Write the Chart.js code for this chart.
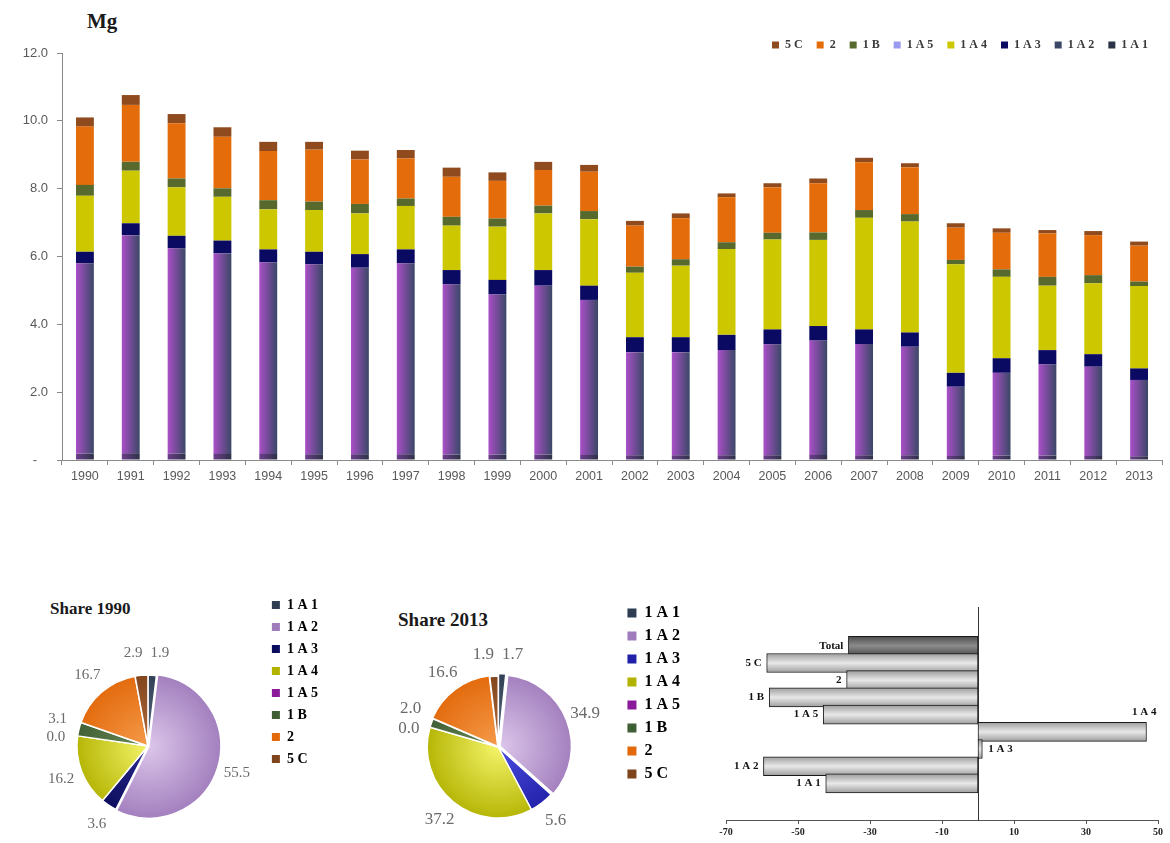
<!DOCTYPE html>
<html>
<head>
<meta charset="utf-8">
<title>Mg emissions</title>
<script src="https://cdn.jsdelivr.net/npm/chart.js@4.4.1/dist/chart.umd.min.js"></script>
<style>
  html, body { margin: 0; padding: 0; background: #fff; overflow: hidden; }
  #page { position: relative; width: 1170px; height: 843px; overflow: hidden; }
  #page canvas { position: absolute; }
  .ttl { position: absolute; font-family: "Liberation Serif", serif; font-weight: bold; color: #1a1a1a; white-space: nowrap; }
</style>
</head>
<body>
<div id="page">
  <div class="ttl" style="left:87px;top:8px;font-size:21px;line-height:26px">Mg</div>
  <canvas id="main" width="1170" height="500" style="left:0;top:0"></canvas>
  <div class="ttl" style="left:50px;top:599px;font-size:17px;line-height:20px">Share 1990</div>
  <canvas id="pie90" width="330" height="312" style="left:0;top:590px"></canvas>
  <div class="ttl" style="left:398px;top:609px;font-size:19px;line-height:22px">Share 2013</div>
  <canvas id="pie13" width="320" height="298" style="left:370px;top:598px"></canvas>
  <canvas id="change" width="470" height="253" style="left:700px;top:590px"></canvas>
</div>
<script>
// --- data (Mg) ---
const years = ['1990','1991','1992','1993','1994','1995','1996','1997','1998','1999','2000','2001',
               '2002','2003','2004','2005','2006','2007','2008','2009','2010','2011','2012','2013'];
const sectors = ['1 A 1','1 A 2','1 A 3','1 A 4','1 A 5','1 B','2','5 C'];

const mg1A1 = [0.19,0.20,0.19,0.18,0.18,0.17,0.17,0.17,0.16,0.16,0.16,0.15,0.14,0.14,0.14,0.14,0.15,0.14,0.14,0.12,0.13,0.13,0.12,0.11];
const mg1A2 = [5.61,6.43,6.05,5.91,5.65,5.60,5.50,5.63,5.02,4.72,4.98,4.57,3.04,3.04,3.10,3.27,3.37,3.28,3.20,2.04,2.44,2.69,2.63,2.25];
const mg1A3 = [0.34,0.35,0.37,0.38,0.38,0.37,0.40,0.41,0.42,0.43,0.46,0.42,0.44,0.44,0.45,0.44,0.43,0.43,0.42,0.41,0.43,0.42,0.37,0.34];
const mg1A4 = [1.65,1.55,1.43,1.29,1.18,1.23,1.20,1.28,1.31,1.57,1.67,1.96,1.90,2.11,2.53,2.65,2.54,3.29,3.27,3.20,2.40,1.90,2.09,2.43];
const mg1A5 = [0,0,0,0,0,0,0,0,0,0,0,0,0,0,0,0,0,0,0,0,0,0,0,0];
const mg1B  = [0.32,0.26,0.26,0.25,0.27,0.25,0.28,0.22,0.26,0.24,0.23,0.24,0.18,0.19,0.20,0.20,0.22,0.23,0.22,0.13,0.22,0.26,0.24,0.13];
const mg2   = [1.72,1.68,1.63,1.52,1.45,1.53,1.31,1.18,1.18,1.11,1.05,1.16,1.21,1.21,1.33,1.34,1.45,1.41,1.38,0.95,1.08,1.28,1.18,1.06];
const mg5C  = [0.27,0.29,0.27,0.28,0.27,0.23,0.26,0.25,0.27,0.25,0.24,0.20,0.14,0.14,0.11,0.12,0.14,0.13,0.12,0.13,0.13,0.10,0.12,0.12];

const share1990 = [1.9, 55.5, 3.6, 16.2, 0.0, 3.1, 16.7, 2.9];
const share2013 = [1.7, 34.9, 5.6, 37.2, 0.0, 2.0, 16.6, 1.9];

const changeLabels = ['Total','5 C','2','1 B','1 A 5','1 A 4','1 A 3','1 A 2','1 A 1'];
const changeValues = [-36.0, -58.7, -36.5, -58.0, -43.0, 46.8, 1.2, -59.6, -42.3];

const yTicks = [0, 2, 4, 6, 8, 10, 12];
const changeTicks = [-70, -50, -30, -10, 10, 30, 50];

// --- style ---
const SERIF = '"Liberation Serif", "Times New Roman", serif';
const SANS = '"Liberation Sans", Arial, sans-serif';
const AXIS = '#8a8a8a';
const BAR_PCT = 0.39;

// bars in the big chart are shaded from left to right
function sideGradient(left, right, solid) {
  return function (ctx) {
    const chart = ctx.chart, xs = chart.scales.x;
    if (ctx.type !== 'data' || !chart.chartArea || !xs) return solid;
    const cx = xs.getPixelForValue(ctx.dataIndex);
    const half = xs.width / years.length * BAR_PCT / 2;
    const g = chart.ctx.createLinearGradient(cx - half, 0, cx + half, 0);
    g.addColorStop(0, left);
    g.addColorStop(1, right);
    return g;
  };
}

// legend of the big chart sits closer to the plot than Chart.js allows
const legendTrim = {
  id: 'legendTrim',
  beforeLayout(chart, args, opts) {
    const lg = chart.legend;
    if (lg && !lg.$trimmed) {
      const fit = lg.fit;
      lg.fit = function () { fit.call(this); this.height = opts.height; };
      lg.$trimmed = true;
    }
  }
};

const mainSeries = [mg1A1, mg1A2, mg1A3, mg1A4, mg1A5, mg1B, mg2, mg5C];
const mainFill = [
  sideGradient('#6d3d8c', '#2c3347', '#3a3f55'),
  sideGradient('#aa4fc8', '#3a4866', '#8a8aa8'),
  '#0a0a62', '#cdc700', '#9a9af0', '#57692c', '#e46c0a', '#8f4a1d'
];

new Chart(document.getElementById('main'), {
  type: 'bar',
  data: {
    labels: years,
    datasets: mainSeries.map((vals, i) => ({
      label: sectors[i],
      data: vals,
      backgroundColor: mainFill[i],
      borderWidth: 0,
      barPercentage: BAR_PCT,
      categoryPercentage: 1
    }))
  },
  options: {
    responsive: false,
    animation: false,
    layout: { padding: { top: 25, right: 8, left: 0, bottom: 10 } },
    scales: {
      x: {
        stacked: true,
        ticks: { color: '#595959', font: { family: SANS, size: 12.5 }, maxRotation: 0, autoSkip: false, padding: 4 },
        grid: { drawOnChartArea: false, tickLength: 5, color: AXIS },
        border: { color: AXIS },
        afterFit(s) { s.height = 30; }
      },
      y: {
        stacked: true,
        min: 0, max: 12,
        afterBuildTicks(s) { s.ticks = yTicks.map(v => ({ value: v })); },
        ticks: {
          padding: 9, color: '#595959', font: { family: SANS, size: 13 },
          callback: v => v === 0 ? '-   ' : v.toFixed(1)
        },
        grid: { drawOnChartArea: false, tickLength: 5, color: AXIS },
        border: { color: AXIS },
        afterFit(s) { s.width = 62; }
      }
    },
    plugins: {
      legendTrim: { height: 28 },
      legend: {
        position: 'top', align: 'end', reverse: true,
        labels: { boxWidth: 7, boxHeight: 7, padding: 14, color: '#3a3a3a', font: { family: SERIF, size: 12, weight: 'bold' } }
      },
      tooltip: { enabled: false }
    }
  },
  plugins: [legendTrim]
});

// --- pies ---
// one scriptable fill per pie: light centre, darker rim
function radial(colors) {
  return function (ctx) {
    const pair = colors[ctx.dataIndex] || colors[0];
    const c = ctx.chart, a = c.chartArea;
    if (ctx.type !== 'data' || !a) return pair[1];
    const cx = (a.left + a.right) / 2, cy = (a.top + a.bottom) / 2;
    const g = c.ctx.createRadialGradient(cx, cy, 0, cx, cy, 76);
    g.addColorStop(0, pair[0]);
    g.addColorStop(1, pair[1]);
    return g;
  };
}

// value labels outside the slices, pushed apart when they collide
const pieLabels = {
  id: 'pieLabels',
  afterDatasetsDraw(chart, args, opts) {
    const ctx = chart.ctx;
    const values = chart.data.datasets[0].data;
    ctx.save();
    ctx.font = opts.size + 'px ' + SERIF;
    const boxes = chart.getDatasetMeta(0).data.map((arc, i) => {
      const p = arc.getProps(['x', 'y', 'startAngle', 'endAngle', 'outerRadius'], true);
      const mid = (p.startAngle + p.endAngle) / 2;
      const r = p.outerRadius + 22;
      const text = values[i].toFixed(1);
      return { text, x: p.x + Math.cos(mid) * r, y: p.y + Math.sin(mid) * r, w: ctx.measureText(text).width, h: opts.size };
    });
    for (let k = 0; k < 80; k++) {
      for (let a = 0; a < boxes.length; a++) {
        for (let b = a + 1; b < boxes.length; b++) {
          const A = boxes[a], B = boxes[b];
          const ox = (A.w + B.w) / 2 + 8 - Math.abs(A.x - B.x);
          const oy = (A.h + B.h) / 2 + 3 - Math.abs(A.y - B.y);
          if (ox > 0 && oy > 0) {
            if (ox < oy) { const s = (A.x <= B.x ? -1 : 1) * ox / 2; A.x += s; B.x -= s; }
            else { const s = (A.y <= B.y ? -1 : 1) * oy / 2; A.y += s; B.y -= s; }
          }
        }
      }
    }
    ctx.fillStyle = '#6a6a6a';
    ctx.textAlign = 'center';
    ctx.textBaseline = 'middle';
    boxes.forEach(b => ctx.fillText(b.text, b.x, b.y));
    ctx.restore();
  }
};

function pieChart(id, shares, colors, offsets, pad, fontSize, legendPad, box, labelSize) {
  return new Chart(document.getElementById(id), {
    type: 'pie',
    data: {
      labels: sectors,
      datasets: [{
        data: shares,
        backgroundColor: radial(colors),
        borderColor: '#ffffff',
        borderWidth: 1.5,
        offset: offsets
      }]
    },
    options: {
      responsive: false,
      animation: false,
      radius: 71,
      layout: { padding: pad },
      plugins: {
        pieLabels: { size: labelSize },
        legend: {
          position: 'right', align: 'start', maxWidth: 70,
          labels: {
            boxWidth: box, boxHeight: box, padding: legendPad, color: '#262626',
            font: { family: SERIF, size: fontSize, weight: 'bold' },
            generateLabels(chart) {
              return chart.data.labels.map((text, i) => ({
                text, index: i, fillStyle: colors[i][1], strokeStyle: colors[i][1], lineWidth: 0, hidden: false
              }));
            }
          }
        },
        tooltip: { enabled: false }
      }
    },
    plugins: [pieLabels]
  });
}

const pieColors90 = [['#5a6a80','#2e3d52'], ['#dcc6ea','#a07cbc'], ['#2a2a90','#0c0c5c'], ['#f4f46a','#b2b200'],
                     ['#b040c0','#8a1a9a'], ['#6a8a58','#3f5e34'], ['#f59a4a','#e2680a'], ['#b06a3a','#7f441c']];
const pieColors13 = [['#5a6a80','#2e3d52'], ['#dcc6ea','#a07cbc'], ['#4c4ce0','#2020a8'], ['#f4f46a','#b2b200'],
                     ['#b040c0','#8a1a9a'], ['#6a8a58','#3f5e34'], ['#f59a4a','#e2680a'], ['#b06a3a','#7f441c']];

pieChart('pie90', share1990, pieColors90, [0, 4, 0, 0, 0, 0, 0, 0],
         { left: 32, right: 2, top: 0, bottom: 0 }, 14, 8, 8, 15);
pieChart('pie13', share2013, pieColors13, [5, 8, 0, 0, 0, 0, 3, 0],
         { left: 6, right: 0, top: 0, bottom: 0 }, 16, 7, 9, 17);

// --- change 1990-2013 (%) ---
function cylinder(ctx) {
  const c = ctx.chart, ys = c.scales.y;
  const total = changeLabels[ctx.dataIndex] === 'Total';
  const edge = total ? '#4a4a4a' : '#9a9a9a', mid = total ? '#8c8c8c' : '#e8e8e8';
  if (ctx.type !== 'data' || !c.chartArea || !ys) return mid;
  const cy = ys.getPixelForValue(ctx.dataIndex);
  const g = c.ctx.createLinearGradient(0, cy - 10, 0, cy + 10);
  g.addColorStop(0, edge);
  g.addColorStop(0.5, mid);
  g.addColorStop(1, edge);
  return g;
}

const barNames = {
  id: 'barNames',
  afterDatasetsDraw(chart) {
    const ctx = chart.ctx;
    ctx.save();
    ctx.font = 'bold 11px ' + SERIF;
    ctx.fillStyle = '#111';
    ctx.textBaseline = 'middle';
    chart.getDatasetMeta(0).data.forEach((bar, i) => {
      const text = changeLabels[i];
      const w = ctx.measureText(text).width;
      if (changeValues[i] < 0) {
        ctx.textAlign = 'right';
        ctx.fillText(text, bar.x - 5, bar.y);
      } else if (bar.x + 6 + w < chart.width) {
        ctx.textAlign = 'left';
        ctx.fillText(text, bar.x + 6, bar.y);
      } else {
        ctx.textAlign = 'right';
        ctx.fillText(text, bar.x + 10, bar.y - 20);
      }
    });
    ctx.restore();
  }
};

new Chart(document.getElementById('change'), {
  type: 'bar',
  data: {
    datasets: [{
      data: changeValues.map((v, i) => ({ x: v, y: i })),
      backgroundColor: cylinder,
      borderColor: '#1a1a1a',
      borderWidth: 1,
      borderSkipped: false,
      barThickness: 19
    }]
  },
  options: {
    indexAxis: 'y',
    responsive: false,
    animation: false,
    layout: { padding: { left: 26, right: 12, top: 17, bottom: 5 } },
    scales: {
      x: {
        type: 'linear', min: -70, max: 50,
        afterBuildTicks(s) { s.ticks = changeTicks.map(v => ({ value: v })); },
        ticks: { color: '#222', font: { family: SERIF, size: 10, weight: 'bold' }, padding: 2 },
        grid: { drawOnChartArea: false, tickLength: 4, color: '#555' },
        border: { color: '#555' },
        afterFit(s) { s.height = 18; }
      },
      y: {
        type: 'linear', reverse: true, min: -1.37, max: 9.24,
        position: { x: 0 },
        ticks: { display: false },
        grid: { display: false },
        border: { color: '#333', width: 1 }
      }
    },
    plugins: { legend: { display: false }, tooltip: { enabled: false } }
  },
  plugins: [barNames]
});
</script>
</body>
</html>
